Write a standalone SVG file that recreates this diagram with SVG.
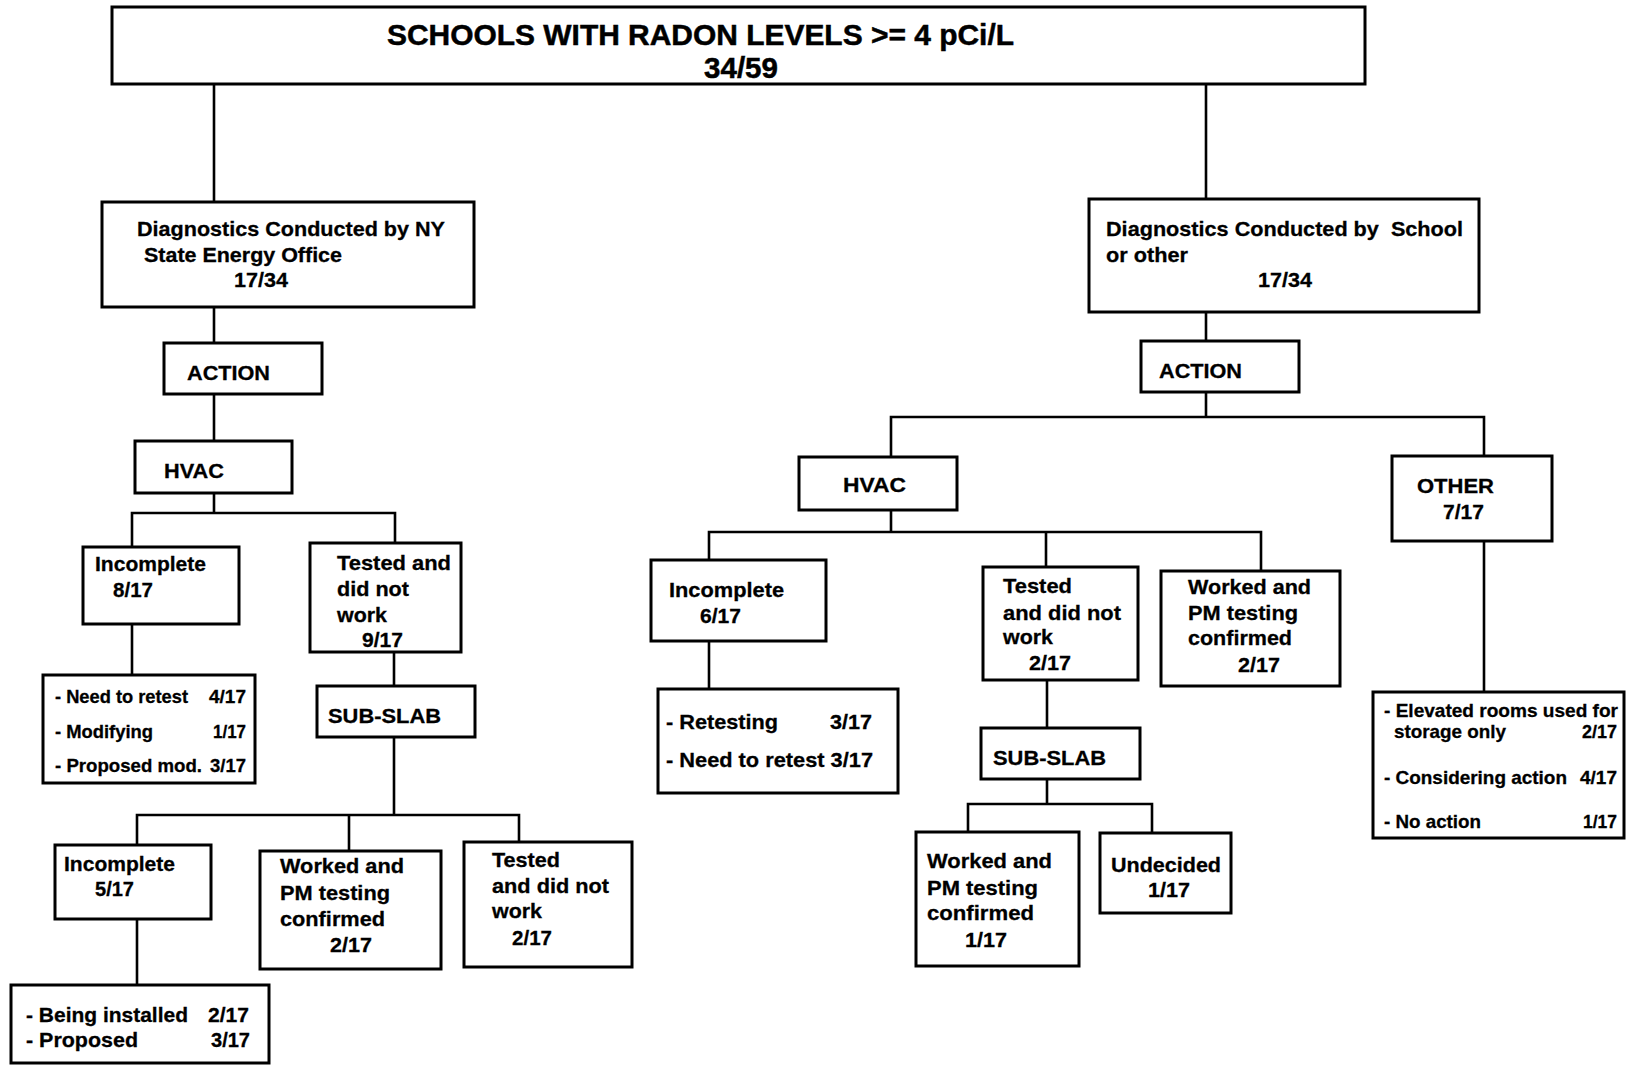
<svg xmlns="http://www.w3.org/2000/svg" width="1631" height="1065" viewBox="0 0 1631 1065">
<style>
.box{fill:#fff;stroke:#000;stroke-width:3}
.ln{fill:none;stroke:#000;stroke-width:2.6}
text{font-family:"Liberation Sans",Arial,Helvetica,sans-serif;font-weight:bold;fill:#000;font-size:21px;stroke:#000;stroke-width:0.3}
.s{font-size:19px}
.ti{font-size:30px;stroke-width:0.5}
</style>
<rect width="1631" height="1065" fill="#fff"/>
<g id="connectors">
<path class="ln" d="M214 84V202M214 307V343M214 394V441M214 493V513M132 547V513H395V543M132 624V675M394 652V686M394 737V815M137 845V815H519V842M349 815V851M137 919V985"/>
<path class="ln" d="M1206 84V199M1206 312V341M1206 392V417M891 457V417H1484V456M891 510V532M709 560V532H1261V571M1046 532V567M709 641V689M1047 680V728M1047 779V804M968 832V804H1152V833M1484 541V692"/>
</g>
<g id="root"><rect class="box" x="112" y="7" width="1253" height="77"/>
<text class="ti" x="387" y="45" textLength="627" lengthAdjust="spacingAndGlyphs">SCHOOLS WITH RADON LEVELS &gt;= 4 pCi/L</text>
<text class="ti" x="704" y="78" textLength="74" lengthAdjust="spacingAndGlyphs">34/59</text></g>
<g id="diagNY"><rect class="box" x="102" y="202" width="372" height="105"/>
<text x="137" y="236" textLength="308" lengthAdjust="spacingAndGlyphs">Diagnostics Conducted by NY</text>
<text x="144" y="262" textLength="198" lengthAdjust="spacingAndGlyphs">State Energy Office</text>
<text x="234" y="287" textLength="54" lengthAdjust="spacingAndGlyphs">17/34</text></g>
<g id="actionL"><rect class="box" x="164" y="343" width="158" height="51"/>
<text x="187" y="380" textLength="83" lengthAdjust="spacingAndGlyphs">ACTION</text></g>
<g id="hvacL"><rect class="box" x="135" y="441" width="157" height="52"/>
<text x="164" y="478" textLength="60" lengthAdjust="spacingAndGlyphs">HVAC</text></g>
<g id="inc8"><rect class="box" x="83" y="547" width="156" height="77"/>
<text x="95" y="571" textLength="111" lengthAdjust="spacingAndGlyphs">Incomplete</text>
<text x="113" y="597" textLength="40" lengthAdjust="spacingAndGlyphs">8/17</text></g>
<g id="tested9"><rect class="box" x="310" y="543" width="151" height="109"/>
<text x="337" y="570" textLength="114" lengthAdjust="spacingAndGlyphs">Tested and</text>
<text x="337" y="596" textLength="72" lengthAdjust="spacingAndGlyphs">did not</text>
<text x="337" y="622" textLength="50" lengthAdjust="spacingAndGlyphs">work</text>
<text x="362" y="647" textLength="41" lengthAdjust="spacingAndGlyphs">9/17</text></g>
<g id="list1"><rect class="box" x="43" y="675" width="212" height="108"/>
<text class="s" x="55" y="703" textLength="133" lengthAdjust="spacingAndGlyphs">- Need to retest</text>
<text class="s" x="209" y="703" textLength="37" lengthAdjust="spacingAndGlyphs">4/17</text>
<text class="s" x="55" y="738" textLength="98" lengthAdjust="spacingAndGlyphs">- Modifying</text>
<text class="s" x="213" y="738" textLength="33" lengthAdjust="spacingAndGlyphs">1/17</text>
<text class="s" x="55" y="772" textLength="147" lengthAdjust="spacingAndGlyphs">- Proposed mod.</text>
<text class="s" x="210" y="772" textLength="36" lengthAdjust="spacingAndGlyphs">3/17</text></g>
<g id="subslabL"><rect class="box" x="317" y="686" width="158" height="51"/>
<text x="328" y="723" textLength="113" lengthAdjust="spacingAndGlyphs">SUB-SLAB</text></g>
<g id="inc5"><rect class="box" x="55" y="845" width="156" height="74"/>
<text x="64" y="871" textLength="111" lengthAdjust="spacingAndGlyphs">Incomplete</text>
<text x="95" y="896" textLength="39" lengthAdjust="spacingAndGlyphs">5/17</text></g>
<g id="worked2L"><rect class="box" x="260" y="851" width="181" height="118"/>
<text x="280" y="873" textLength="124" lengthAdjust="spacingAndGlyphs">Worked and</text>
<text x="280" y="900" textLength="110" lengthAdjust="spacingAndGlyphs">PM testing</text>
<text x="280" y="926" textLength="105" lengthAdjust="spacingAndGlyphs">confirmed</text>
<text x="330" y="952" textLength="42" lengthAdjust="spacingAndGlyphs">2/17</text></g>
<g id="tested2L"><rect class="box" x="464" y="842" width="168" height="125"/>
<text x="492" y="867" textLength="68" lengthAdjust="spacingAndGlyphs">Tested</text>
<text x="492" y="893" textLength="117" lengthAdjust="spacingAndGlyphs">and did not</text>
<text x="492" y="918" textLength="50" lengthAdjust="spacingAndGlyphs">work</text>
<text x="512" y="945" textLength="40" lengthAdjust="spacingAndGlyphs">2/17</text></g>
<g id="list2"><rect class="box" x="11" y="985" width="258" height="78"/>
<text x="26" y="1022" textLength="162" lengthAdjust="spacingAndGlyphs">- Being installed</text>
<text x="208" y="1022" textLength="41" lengthAdjust="spacingAndGlyphs">2/17</text>
<text x="26" y="1047" textLength="112" lengthAdjust="spacingAndGlyphs">- Proposed</text>
<text x="211" y="1047" textLength="39" lengthAdjust="spacingAndGlyphs">3/17</text></g>
<g id="diagS"><rect class="box" x="1089" y="199" width="390" height="113"/>
<text x="1106" y="236" textLength="357" lengthAdjust="spacingAndGlyphs" xml:space="preserve">Diagnostics Conducted by  School</text>
<text x="1106" y="262" textLength="82" lengthAdjust="spacingAndGlyphs">or other</text>
<text x="1258" y="287" textLength="54" lengthAdjust="spacingAndGlyphs">17/34</text></g>
<g id="actionR"><rect class="box" x="1141" y="341" width="158" height="51"/>
<text x="1159" y="378" textLength="83" lengthAdjust="spacingAndGlyphs">ACTION</text></g>
<g id="hvacR"><rect class="box" x="799" y="457" width="158" height="53"/>
<text x="843" y="492" textLength="63" lengthAdjust="spacingAndGlyphs">HVAC</text></g>
<g id="other"><rect class="box" x="1392" y="456" width="160" height="85"/>
<text x="1417" y="493" textLength="77" lengthAdjust="spacingAndGlyphs">OTHER</text>
<text x="1443" y="519" textLength="41" lengthAdjust="spacingAndGlyphs">7/17</text></g>
<g id="inc6"><rect class="box" x="651" y="560" width="175" height="81"/>
<text x="669" y="597" textLength="115" lengthAdjust="spacingAndGlyphs">Incomplete</text>
<text x="700" y="623" textLength="41" lengthAdjust="spacingAndGlyphs">6/17</text></g>
<g id="tested2R"><rect class="box" x="983" y="567" width="155" height="113"/>
<text x="1003" y="593" textLength="69" lengthAdjust="spacingAndGlyphs">Tested</text>
<text x="1003" y="620" textLength="118" lengthAdjust="spacingAndGlyphs">and did not</text>
<text x="1003" y="644" textLength="50" lengthAdjust="spacingAndGlyphs">work</text>
<text x="1029" y="670" textLength="42" lengthAdjust="spacingAndGlyphs">2/17</text></g>
<g id="worked2R"><rect class="box" x="1161" y="571" width="179" height="115"/>
<text x="1188" y="594" textLength="123" lengthAdjust="spacingAndGlyphs">Worked and</text>
<text x="1188" y="620" textLength="110" lengthAdjust="spacingAndGlyphs">PM testing</text>
<text x="1188" y="645" textLength="104" lengthAdjust="spacingAndGlyphs">confirmed</text>
<text x="1238" y="672" textLength="42" lengthAdjust="spacingAndGlyphs">2/17</text></g>
<g id="list3"><rect class="box" x="658" y="689" width="240" height="104"/>
<text x="666" y="729" textLength="112" lengthAdjust="spacingAndGlyphs">- Retesting</text>
<text x="830" y="729" textLength="42" lengthAdjust="spacingAndGlyphs">3/17</text>
<text x="666" y="767" textLength="207" lengthAdjust="spacingAndGlyphs">- Need to retest 3/17</text></g>
<g id="subslabR"><rect class="box" x="981" y="728" width="159" height="51"/>
<text x="993" y="765" textLength="113" lengthAdjust="spacingAndGlyphs">SUB-SLAB</text></g>
<g id="worked1"><rect class="box" x="916" y="832" width="163" height="134"/>
<text x="927" y="868" textLength="125" lengthAdjust="spacingAndGlyphs">Worked and</text>
<text x="927" y="895" textLength="111" lengthAdjust="spacingAndGlyphs">PM testing</text>
<text x="927" y="920" textLength="107" lengthAdjust="spacingAndGlyphs">confirmed</text>
<text x="965" y="947" textLength="42" lengthAdjust="spacingAndGlyphs">1/17</text></g>
<g id="undecided"><rect class="box" x="1100" y="833" width="131" height="80"/>
<text x="1111" y="872" textLength="110" lengthAdjust="spacingAndGlyphs">Undecided</text>
<text x="1148" y="897" textLength="42" lengthAdjust="spacingAndGlyphs">1/17</text></g>
<g id="list4"><rect class="box" x="1373" y="692" width="251" height="146"/>
<text class="s" x="1384" y="717" textLength="234" lengthAdjust="spacingAndGlyphs">- Elevated rooms used for</text>
<text class="s" x="1394" y="738" textLength="112" lengthAdjust="spacingAndGlyphs">storage only</text>
<text class="s" x="1582" y="738" textLength="35" lengthAdjust="spacingAndGlyphs">2/17</text>
<text class="s" x="1384" y="784" textLength="183" lengthAdjust="spacingAndGlyphs">- Considering action</text>
<text class="s" x="1580" y="784" textLength="37" lengthAdjust="spacingAndGlyphs">4/17</text>
<text class="s" x="1384" y="828" textLength="97" lengthAdjust="spacingAndGlyphs">- No action</text>
<text class="s" x="1583" y="828" textLength="34" lengthAdjust="spacingAndGlyphs">1/17</text></g>
</svg>
